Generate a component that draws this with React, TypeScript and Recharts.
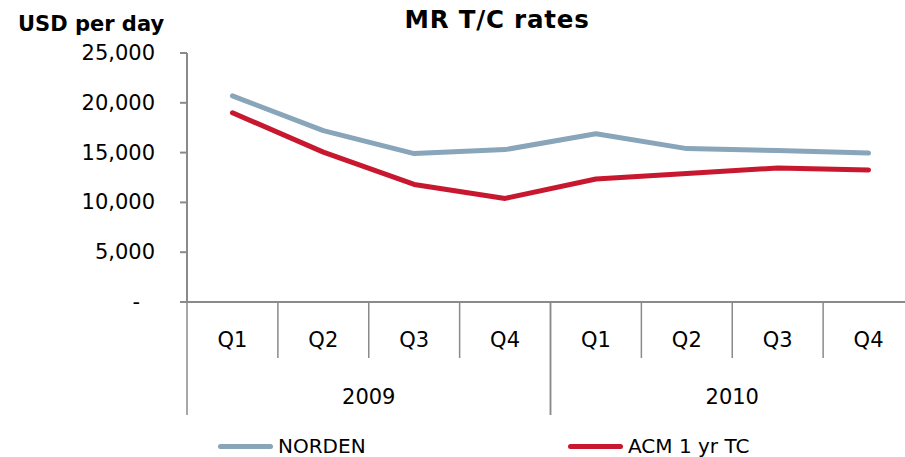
import { LineChart, Line, XAxis, YAxis } from "recharts";

// quarterly categories
const quarters = ["Q1", "Q2", "Q3", "Q4", "Q1", "Q2", "Q3", "Q4"];
const years = ["2009", "2009", "2009", "2009", "2010", "2010", "2010", "2010"];
const yearLabels = ["2009", "2010"];
// USD per day
const norden = [20700, 17200, 14900, 15300, 16900, 15400, 15200, 14950];
const acm = [19000, 15050, 11800, 10400, 12350, 12900, 13450, 13250];
const yTicks = [0, 5000, 10000, 15000, 20000, 25000];

const data = quarters.map((q, i) => ({
  key: `${years[i]}-${q}`,
  quarter: q,
  year: years[i],
  norden: norden[i],
  acm: acm[i],
}));

const FONT = "'DejaVu Sans', Verdana, sans-serif";
const AXIS = "#8a8a8a";
const PLOT_LEFT = 187;
const PLOT_RIGHT = 914;
const AXIS_Y = 302;
const QBW = (PLOT_RIGHT - PLOT_LEFT) / quarters.length;
const YBW = QBW * 4;

const QuarterTick = (props: any) => {
  const { x, payload, index } = props;
  const i = payload.index ?? index;
  const label = quarters[i] ?? payload.value;
  const left = x - QBW / 2;
  return (
    <g>
      {i % 4 !== 0 && (
        <line x1={left} x2={left} y1={AXIS_Y} y2={358} stroke={AXIS} strokeWidth={1.5} />
      )}
      <text x={x} y={340} textAnchor="middle" dominantBaseline="central" fontSize={21} fontFamily={FONT} fill="#000">
        {label}
      </text>
    </g>
  );
};

const YearTick = (props: any) => {
  const { x, payload } = props;
  return (
    <g>
      <line x1={x - YBW / 2} x2={x - YBW / 2} y1={AXIS_Y} y2={415} stroke={AXIS} strokeWidth={1.5} />
      <line x1={x + YBW / 2} x2={x + YBW / 2} y1={AXIS_Y} y2={415} stroke={AXIS} strokeWidth={1.5} />
      <text x={x} y={397} textAnchor="middle" dominantBaseline="central" fontSize={21} fontFamily={FONT} fill="#000">
        {payload.value}
      </text>
    </g>
  );
};

const ValueTick = (props: any) => {
  const { y, payload } = props;
  const v = payload.value as number;
  return (
    <text
      x={v === 0 ? 140 : 155}
      y={y}
      textAnchor="end"
      dominantBaseline="central"
      fontSize={21}
      fontFamily={FONT}
      fill="#000"
    >
      {v === 0 ? "-" : v.toLocaleString("en-US")}
    </text>
  );
};

export default function App() {
  return (
    <div style={{ position: "absolute", left: 0, top: 0, width: 905, height: 457, overflow: "hidden", background: "#fff", fontFamily: FONT }}>
      <div style={{ position: "absolute", left: 18, top: 10, fontSize: 21, fontWeight: "bold", lineHeight: "28px" }}>
        USD per day
      </div>
      <div style={{ position: "absolute", left: 0, width: 994, top: 5, textAlign: "center", fontSize: 24.5, fontWeight: "bold", letterSpacing: 0.8, lineHeight: "30px" }}>
        MR T/C rates
      </div>
      <LineChart width={930} height={457} data={data} margin={{ top: 53, right: 16, left: 0, bottom: 42 }}>
        <YAxis
          domain={[0, 25000]}
          ticks={yTicks}
          width={PLOT_LEFT}
          interval={0}
          tickSize={7}
          stroke={AXIS}
          strokeWidth={2}
          tick={<ValueTick />}
        />
        <XAxis
          xAxisId={0}
          dataKey="key"
          scale="band"
          height={56}
          interval={0}
          tickLine={false}
          stroke={AXIS}
          strokeWidth={2}
          tick={<QuarterTick />}
        />
        <XAxis
          xAxisId="year"
          dataKey="year"
          scale="band"
          allowDuplicatedCategory={false}
          ticks={yearLabels}
          height={57}
          interval={0}
          axisLine={false}
          tickLine={false}
          tick={<YearTick />}
        />
        <Line dataKey="norden" name="NORDEN" stroke="#88a5ba" strokeWidth={5} dot={false} strokeLinecap="round" strokeLinejoin="round" isAnimationActive={false} />
        <Line dataKey="acm" name="ACM 1 yr TC" stroke="#c8182f" strokeWidth={5} dot={false} strokeLinecap="round" strokeLinejoin="round" isAnimationActive={false} />
      </LineChart>
      <div style={{ position: "absolute", left: 218, top: 434, display: "flex", alignItems: "center", fontSize: 20 }}>
        <span style={{ display: "inline-block", width: 55, height: 5, borderRadius: 3, background: "#88a5ba", marginRight: 5 }} />
        NORDEN
      </div>
      <div style={{ position: "absolute", left: 568, top: 434, display: "flex", alignItems: "center", fontSize: 20 }}>
        <span style={{ display: "inline-block", width: 55, height: 5, borderRadius: 3, background: "#c8182f", marginRight: 5 }} />
        ACM 1 yr TC
      </div>
    </div>
  );
}
